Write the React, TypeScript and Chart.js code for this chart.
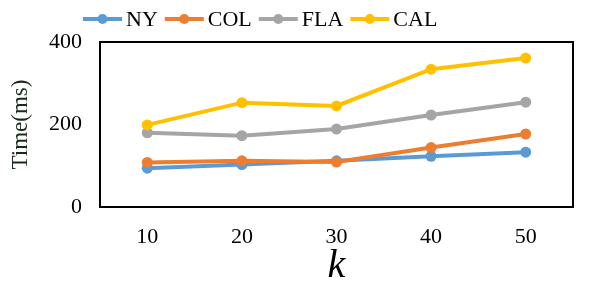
import React, { useEffect, useRef } from "react";
import { Chart, registerables } from "chart.js";

Chart.register(...registerables);

const categories = ["10", "20", "30", "40", "50"];
const seriesNames = ["NY", "COL", "FLA", "CAL"];
const nyValues = [94, 103, 112, 123, 133];
const colValues = [108, 112, 109, 144, 177];
const flaValues = [180, 173, 189, 223, 254];
const calValues = [199, 253, 245, 334, 361];
const seriesColors = ["#5B9BD5", "#ED7D31", "#A5A5A5", "#FFC000"];
const yTicks = [0, 200, 400];

const FONT = "'Liberation Serif'";

const boxPlugin = {
  id: "box",
  beforeDatasetsDraw(chart: any) {
    const { ctx, chartArea } = chart;
    ctx.save();
    ctx.strokeStyle = "#000";
    ctx.lineWidth = 2;
    ctx.strokeRect(chartArea.left, chartArea.top, chartArea.right - chartArea.left, chartArea.bottom - chartArea.top);
    ctx.restore();
  },
};

const legendPlugin = {
  id: "customLegend",
  afterDraw(chart: any) {
    const { ctx } = chart;
    ctx.save();
    ctx.font = `22px ${FONT}`;
    ctx.textBaseline = "middle";
    const y = 19;
    let x = 83;
    seriesNames.forEach((name, i) => {
      const c = seriesColors[i];
      ctx.strokeStyle = c;
      ctx.lineWidth = 4;
      ctx.beginPath();
      ctx.moveTo(x, y);
      ctx.lineTo(x + 39, y);
      ctx.stroke();
      ctx.fillStyle = c;
      ctx.beginPath();
      ctx.arc(x + 19.5, y, 5, 0, Math.PI * 2);
      ctx.fill();
      x += 43;
      ctx.fillStyle = "#000";
      ctx.fillText(name, x, y + 1);
      x += ctx.measureText(name).width + 7;
    });
    ctx.restore();
  },
};

export default function App() {
  const ref = useRef<HTMLCanvasElement>(null);
  useEffect(() => {
    let chart: any = null;
    let cancelled = false;
    const build = () => {
      if (cancelled) return;
      const values = [nyValues, colValues, flaValues, calValues];
      chart = new Chart(ref.current!, {
        type: "line",
        data: {
          labels: categories,
          datasets: seriesNames.map((name, i) => ({
            label: name,
            data: values[i],
            borderColor: seriesColors[i],
            backgroundColor: seriesColors[i],
            pointBackgroundColor: seriesColors[i],
            pointBorderWidth: 0,
            pointRadius: 5.5,
            borderWidth: 4,
            tension: 0,
            order: 3 - i,
          })),
        },
        options: {
          animation: false,
          responsive: false,
          devicePixelRatio: 1,
          layout: { padding: { left: 0, right: 18, top: 42, bottom: 0 } },
          plugins: { legend: { display: false }, tooltip: { enabled: false } },
          scales: {
            x: {
              offset: true,
              grid: { display: false, drawTicks: false },
              border: { display: false },
              ticks: { color: "#000", font: { family: FONT, size: 22 }, padding: 17 },
              title: { display: true, text: "k", color: "#000", font: { family: FONT, size: 40, style: "italic" }, padding: { top: 0, bottom: 6 } },
              afterFit: (s: any) => { s.height = 89; },
            },
            y: {
              min: 0,
              max: 400,
              grid: { display: false, drawTicks: false },
              border: { display: false },
              afterBuildTicks: (s: any) => { s.ticks = yTicks.map((v) => ({ value: v })); },
              ticks: { color: "#000", font: { family: FONT, size: 22 }, padding: 18 },
              title: { display: true, text: "Time(ms)", color: "#1a2a1a", font: { family: FONT, size: 23 }, padding: { top: 7, bottom: 0 } },
              afterFit: (s: any) => { s.width = 100; },
            },
          },
        },
        plugins: [boxPlugin, legendPlugin],
      });
    };
    Promise.all([
      document.fonts.load(`22px ${FONT}`),
      document.fonts.load(`italic 40px ${FONT}`),
    ]).then(build, build);
    return () => {
      cancelled = true;
      if (chart) chart.destroy();
    };
  }, []);
  return (
    <div style={{ position: "fixed", left: 0, top: 0, width: 591, height: 296, background: "#fff" }}>
      <canvas ref={ref} width={591} height={296} style={{ width: 591, height: 296 }} />
    </div>
  );
}
